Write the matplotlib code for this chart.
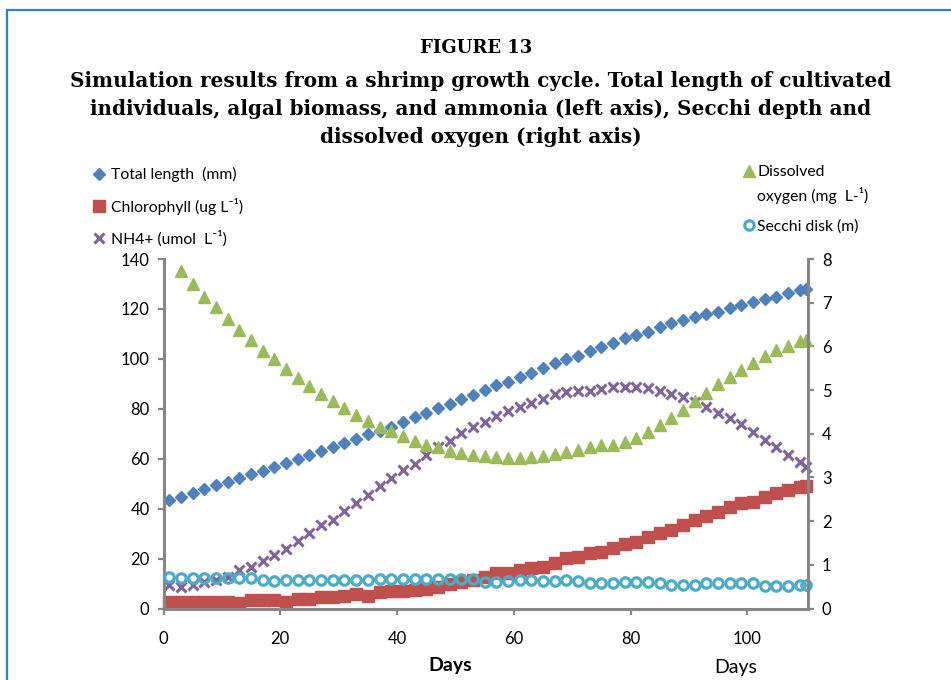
import matplotlib
matplotlib.use('Agg')
import matplotlib.pyplot as plt
from matplotlib.patches import Rectangle

BLUE = '#4F81BD'
RED = '#C0504D'
GREEN = '#9BBB59'
PURPLE = '#8064A2'
AQUA = '#4BACC6'
GREY = '#868686'
FRAME = '#2F80CF'

# sampling days (every 2 days, last one at day 110)
days = list(range(1, 110, 2)) + [110]
do_days = days[1:]

length_mm = [43.5, 44.8, 46.2, 47.8, 49.5, 50.8, 52.2, 53.9, 55.2, 56.6,
             58.4, 59.8, 61.5, 63.2, 64.6, 66.4, 67.8, 69.8, 71.3, 72.8,
             74.8, 76.6, 78.4, 80.2, 81.9, 84.0, 85.5, 87.5, 89.5, 90.9,
             92.9, 94.5, 96.2, 98.2, 99.8, 101.2, 103.2, 104.9, 106.5, 108.3,
             109.6, 110.9, 112.9, 114.3, 115.6, 116.9, 118.0, 118.9, 120.3, 121.6,
             122.9, 123.9, 124.9, 126.5, 127.6, 127.8]
chlorophyll = [2.7, 2.7, 2.7, 2.7, 2.7, 2.7, 2.3, 3.4, 3.4, 3.4,
               2.7, 3.8, 3.8, 4.5, 4.5, 5.0, 5.8, 5.0, 6.5, 7.1,
               7.1, 7.4, 7.7, 8.7, 9.8, 10.7, 11.4, 12.7, 14.1, 14.1,
               15.4, 16.1, 16.7, 18.1, 20.1, 20.8, 22.1, 22.8, 24.1, 25.8,
               26.8, 28.8, 30.1, 31.4, 33.5, 35.5, 37.1, 38.8, 40.5, 42.1,
               42.8, 44.8, 46.2, 47.5, 48.6, 49.1]
nh4 = [9.4, 8.7, 9.4, 10.7, 11.4, 12.7, 15.4, 16.7, 19.2, 21.4,
       23.8, 27.2, 30.1, 33.5, 35.5, 39.2, 42.1, 45.5, 49.1, 52.2,
       55.5, 57.9, 61.5, 64.8, 67.2, 70.2, 72.7, 74.8, 77.1, 79.3,
       80.6, 82.2, 83.8, 85.8, 86.9, 87.3, 87.3, 87.9, 88.9, 88.9,
       88.9, 88.2, 87.3, 85.9, 84.9, 82.9, 80.6, 78.5, 76.2, 73.9,
       70.8, 67.5, 64.8, 61.5, 58.8, 56.8]
oxygen = [7.73, 7.42, 7.14, 6.89, 6.62, 6.37, 6.14, 5.90, 5.71,
          5.49, 5.28, 5.09, 4.92, 4.76, 4.58, 4.43, 4.30, 4.15, 4.06,
          3.94, 3.84, 3.75, 3.69, 3.61, 3.57, 3.51, 3.48, 3.46, 3.44,
          3.44, 3.46, 3.50, 3.53, 3.59, 3.63, 3.69, 3.75, 3.75, 3.81,
          3.90, 4.04, 4.21, 4.36, 4.55, 4.76, 4.93, 5.14, 5.31, 5.47,
          5.62, 5.78, 5.91, 6.01, 6.12, 6.14]
secchi = [0.71, 0.70, 0.70, 0.70, 0.70, 0.70, 0.70, 0.70, 0.65, 0.64,
          0.65, 0.65, 0.65, 0.65, 0.65, 0.65, 0.65, 0.65, 0.67, 0.67,
          0.67, 0.67, 0.67, 0.67, 0.67, 0.67, 0.67, 0.61, 0.61, 0.64,
          0.65, 0.65, 0.64, 0.64, 0.65, 0.64, 0.58, 0.58, 0.59, 0.61,
          0.61, 0.61, 0.59, 0.54, 0.54, 0.54, 0.58, 0.58, 0.58, 0.58,
          0.58, 0.51, 0.51, 0.51, 0.54, 0.54]

plt.rcParams['font.family'] = ['Lato', 'DejaVu Sans']

fig = plt.figure(figsize=(9.51, 6.8), dpi=100)
fig.add_artist(Rectangle((6.5 / 951, -0.2), 1.2, 1.2 - 9.5 / 680,
                         transform=fig.transFigure, fill=False,
                         edgecolor=FRAME, lw=1.6))

ax = fig.add_axes([163.5 / 951, 1 - 608.5 / 680, (808 - 163.5) / 951, (608.5 - 259) / 680])
ax2 = ax.twinx()

l1, = ax.plot(days, length_mm, ls='none', marker='D', ms=6.2, color=BLUE,
              clip_on=False, label='Total length  (mm)')
l2, = ax.plot(days, chlorophyll, ls='none', marker='s', ms=8.3, color=RED,
              clip_on=False, label='Chlorophyll (ug L⁻¹)')
l3, = ax.plot(days, nh4, ls='none', marker='x', ms=7, mew=2.2, color=PURPLE,
              clip_on=False, label='NH4+ (umol  L⁻¹)')
l4, = ax2.plot(do_days, oxygen, ls='none', marker='^', ms=8.5, color=GREEN,
               clip_on=False, label='Dissolved')
l5, = ax2.plot(days, secchi, ls='none', marker='o', ms=6.8, mew=2.3, mfc='none',
               color=AQUA, clip_on=False, label='Secchi disk (m)')

ax.set_xlim(0, 110.4)
ax.set_ylim(0, 140)
ax2.set_ylim(0, 8)
ax.set_xticks(range(0, 101, 20))
ax.set_yticks(range(0, 141, 20))
ax2.set_yticks(range(0, 9))

for s in ['top', 'right']:
    ax.spines[s].set_visible(False)
for s in ['top', 'left', 'bottom']:
    ax2.spines[s].set_visible(False)
for a, s in [(ax, 'left'), (ax, 'bottom'), (ax2, 'right')]:
    a.spines[s].set_color(GREY)
    a.spines[s].set_linewidth(2.2)

ax.tick_params(axis='both', direction='out', length=4, width=1.6, color=GREY,
               labelsize=12, labelcolor='black')
ax.tick_params(axis='x', pad=12)
ax.tick_params(axis='y', pad=6)
ax2.tick_params(axis='y', direction='out', length=4, width=1.6, color=GREY,
                labelsize=12, pad=6)

fig.text(476 / 951, 1 - 48 / 680, 'FIGURE 13', ha='center', va='center',
         family='DejaVu Serif', weight='bold', size=13)
title_lines = ['Simulation results from a shrimp growth cycle. Total length of cultivated',
               'individuals, algal biomass, and ammonia (left axis), Secchi depth and',
               'dissolved oxygen (right axis)']
for i, t in enumerate(title_lines):
    fig.text(481 / 951, 1 - (81 + 28 * i) / 680, t, ha='center', va='center',
             family='DejaVu Serif', weight='bold', size=14.4)

fig.text(450 / 951, 1 - 666 / 680, 'Days', ha='center', va='center',
         weight='bold', size=14)
fig.text(736 / 951, 1 - 668 / 680, 'Days', ha='center', va='center', size=14)

fig.legend(handles=[l1, l2, l3], loc='upper left',
           bbox_to_anchor=(92.5 / 951, 1 - 167 / 680), frameon=False,
           fontsize=11.3, handlelength=0.8, handletextpad=0.35,
           labelspacing=1.0, borderpad=0, borderaxespad=0)
fig.legend(handles=[l4, l5], loc='upper left',
           bbox_to_anchor=(744.5 / 951, 1 - 165 / 680), frameon=False,
           fontsize=11.3, handlelength=0.6, handletextpad=0.2,
           labelspacing=2.55, borderpad=0, borderaxespad=0)
fig.text(757 / 951, 1 - 195 / 680, 'oxygen (mg  L-¹)', ha='left',
         va='center', size=11.3)

fig.savefig('out.png', dpi=100)
